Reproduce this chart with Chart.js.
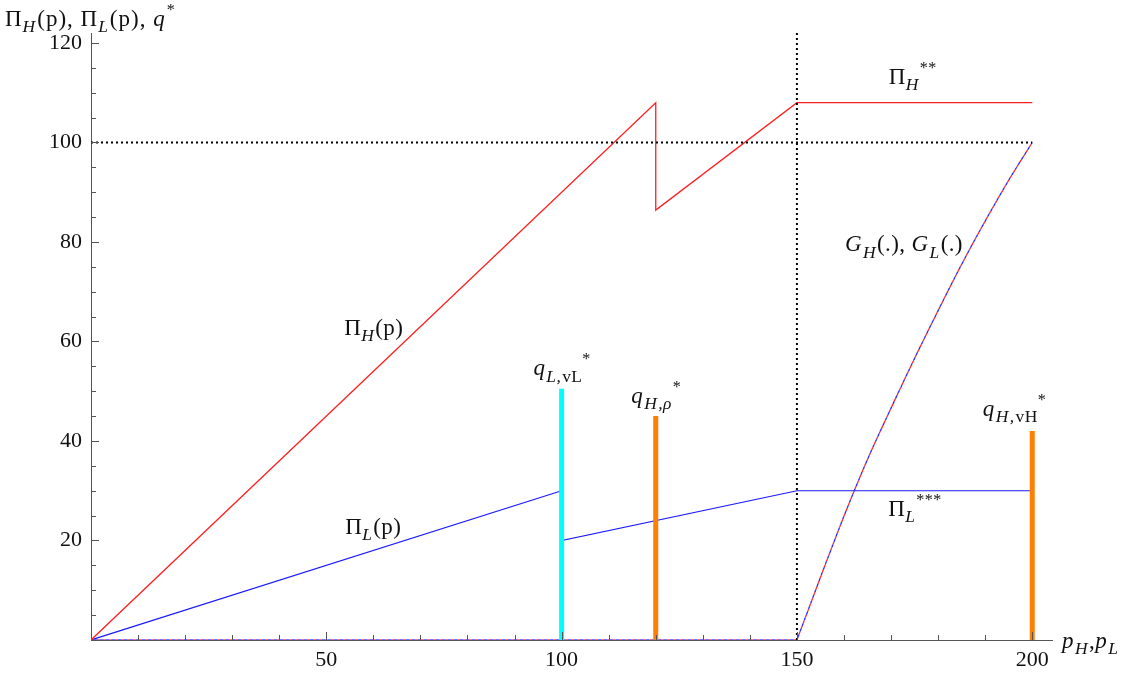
<!DOCTYPE html>
<html>
<head>
<meta charset="utf-8">
<script src="https://cdn.jsdelivr.net/npm/chart.js@4.4.1/dist/chart.umd.min.js"></script>
<style>
html,body{margin:0;padding:0;background:#fff;}
#c{display:block;}
</style>
</head>
<body>
<canvas id="c" width="1133" height="675"></canvas>
<script>
// ---- data ----
const piH_x = [0, 120, 120, 150, 200];
const piH_y = [0, 108, 86.4, 108, 108];
const piL_x = [0, 100, 100, 150, 200];
const piL_y = [0, 30, 20, 30, 30];
const gFlat_x = [0, 150];
const gFlat_y = [0, 0];
const g_x = [150, 152.5, 155, 157.5, 160, 165, 170, 175, 180, 185, 190, 195, 200];
const g_y = [0, 6.3, 12.6, 18.8, 24.9, 36.3, 46.6, 56.6, 66.2, 75.5, 84.2, 92.4, 100];
const q_x = [100, 120, 200];
const q_h = [50.5, 45, 42];
const q_colors = ['#00ffff', '#ff7f00', '#ff7f00'];
const refY = 100;      // horizontal dotted line
const refX = 150;      // vertical dotted line
const xTicks = [50, 100, 150, 200];
const yTicks = [20, 40, 60, 80, 100, 120];
const xMinor = [10, 20, 30, 40, 60, 70, 80, 90, 110, 120, 130, 140, 160, 170, 180, 190];
const yMinor = [5, 10, 15, 25, 30, 35, 45, 50, 55, 65, 70, 75, 85, 90, 95, 105, 110, 115];
const X_MAX = 204.2, Y_MAX = 122;

const pts = (xs, ys) => xs.map((x, i) => ({x: x, y: ys[i]}));

const datasets = [];
// bars first so they are drawn on top
q_x.forEach((x, i) => {
  datasets.push({data: pts([x, x], [0, q_h[i]]), borderColor: q_colors[i], borderWidth: 5, borderCapStyle: 'butt'});
});
datasets.push(
  {data: pts([0, 200], [refY, refY]), borderColor: '#000', borderWidth: 2, borderDash: [2, 3]},
  {data: pts([refX, refX], [0, Y_MAX]), borderColor: '#000', borderWidth: 2, borderDash: [2, 3]},
  {data: pts(g_x, g_y), borderColor: '#2a2aff', borderWidth: 1.3, borderDash: [3, 3], borderDashOffset: 3, cubicInterpolationMode: 'monotone'},
  {data: pts(g_x, g_y), borderColor: '#ff2a2a', borderWidth: 1.3, borderDash: [3, 3], cubicInterpolationMode: 'monotone'},
  {data: pts(gFlat_x, gFlat_y), borderColor: '#2a2aff', borderWidth: 1.3, borderDash: [3, 3], borderDashOffset: 3},
  {data: pts(gFlat_x, gFlat_y), borderColor: '#ff2a2a', borderWidth: 1.3, borderDash: [3, 3]},
  {data: pts(piH_x, piH_y), borderColor: '#ff2020', borderWidth: 1.3},
  {data: pts(piL_x, piL_y), borderColor: '#1a1aff', borderWidth: 1.2}
);

const SERIF = '"Liberation Serif", "DejaVu Serif", serif';

function drawRich(ctx, x, y, segs, size, spacing) {
  let cx = x;
  ctx.letterSpacing = spacing + 'px';
  segs.forEach(([t, st]) => {
    let s = size, dy = 0, it = false;
    if (st === 'i') it = true;
    if (st === 'subi') { s = size * 0.76; dy = size * 0.27; it = true; }
    if (st === 'subn') { s = size * 0.76; dy = size * 0.27; }
    if (st === 'sup') { s = size * 0.7; dy = -size * 0.48; }
    ctx.font = (it ? 'italic ' : '') + s + 'px ' + SERIF;
    ctx.fillText(t, cx, y + dy);
    cx += ctx.measureText(t).width + (it ? 1 : 0);
  });
  ctx.letterSpacing = '0px';
}

const labels = [
  {x: 5, y: 26, px: true, sp: 1, segs: [['Π','n'],['H','subi'],['(p), Π','n'],['L','subi'],['(p), ','n'],['q','i'],['*','sup']]},
  {x: 1062, y: 648, px: true, sp: 0.5, segs: [['p','i'],['H','subi'],[',','n'],['p','i'],['L','subi']]},
  {dx: 169.5, dy: 111.7, segs: [['Π','n'],['H','subi'],['**','sup']]},
  {dx: 160.2, dy: 78.1, segs: [['G','i'],['H','subi'],['(.), ','n'],['G','i'],['L','subi'],['(.)','n']]},
  {dx: 53.8, dy: 61.4, segs: [['Π','n'],['H','subi'],['(p)','n']]},
  {dx: 54, dy: 21.4, segs: [['Π','n'],['L','subi'],['(p)','n']]},
  {dx: 169.4, dy: 25, segs: [['Π','n'],['L','subi'],['***','sup']]},
  {dx: 94, dy: 53.2, segs: [['q','i'],['L,','subi'],['vL','subn'],['*','sup']]},
  {dx: 114.8, dy: 47.6, segs: [['q','i'],['H','subi'],[',ρ','subi'],['*','sup']]},
  {dx: 189.5, dy: 45, segs: [['q','i'],['H','subi'],[',','subi'],['vH','subn'],['*','sup']]},
];

const decor = {
  id: 'decor',
  afterDraw(chart) {
    const ctx = chart.ctx, xs = chart.scales.x, ys = chart.scales.y;
    const x0 = xs.getPixelForValue(0), y0 = ys.getPixelForValue(0);
    ctx.save();
    ctx.strokeStyle = '#555';
    ctx.lineWidth = 1;
    ctx.beginPath();
    xTicks.forEach(v => { const p = Math.round(xs.getPixelForValue(v)) + 0.5; ctx.moveTo(p, y0); ctx.lineTo(p, y0 - 8); });
    xMinor.forEach(v => { const p = Math.round(xs.getPixelForValue(v)) + 0.5; ctx.moveTo(p, y0); ctx.lineTo(p, y0 - 5); });
    yTicks.forEach(v => { const p = Math.round(ys.getPixelForValue(v)) + 0.5; ctx.moveTo(x0, p); ctx.lineTo(x0 + 8, p); });
    yMinor.forEach(v => { const p = Math.round(ys.getPixelForValue(v)) + 0.5; ctx.moveTo(x0, p); ctx.lineTo(x0 + 5, p); });
    ctx.stroke();
    ctx.fillStyle = '#111';
    ctx.textBaseline = 'alphabetic';
    ctx.textAlign = 'left';
    labels.forEach(l => {
      const px = l.px ? l.x : xs.getPixelForValue(l.dx);
      const py = l.px ? l.y : ys.getPixelForValue(l.dy);
      drawRich(ctx, px, py, l.segs, 23, l.sp === undefined ? 0.4 : l.sp);
    });
    ctx.restore();
  }
};

new Chart(document.getElementById('c'), {
  type: 'line',
  data: {datasets: datasets},
  options: {
    responsive: false,
    animation: false,
    devicePixelRatio: 1,
    layout: {padding: {left: 0, top: 33, right: 1133 - 1052, bottom: 0}},
    plugins: {legend: {display: false}, tooltip: {enabled: false}},
    elements: {point: {radius: 0}, line: {tension: 0, fill: false}},
    scales: {
      x: {
        type: 'linear', min: 0, max: X_MAX,
        grid: {display: false, drawTicks: false},
        border: {display: true, color: '#555', width: 1},
        ticks: {color: '#111', padding: 7, font: {family: SERIF, size: 22}, maxRotation: 0},
        afterBuildTicks: s => { s.ticks = xTicks.map(v => ({value: v})); },
        afterFit: s => { s.height = 675 - 640; }
      },
      y: {
        type: 'linear', min: 0, max: Y_MAX,
        grid: {display: false, drawTicks: false},
        border: {display: true, color: '#555', width: 1},
        ticks: {color: '#111', padding: 9, font: {family: SERIF, size: 22}},
        afterBuildTicks: s => { s.ticks = yTicks.map(v => ({value: v})); },
        afterFit: s => { s.width = 91; }
      }
    }
  },
  plugins: [decor]
});
</script>
</body>
</html>
